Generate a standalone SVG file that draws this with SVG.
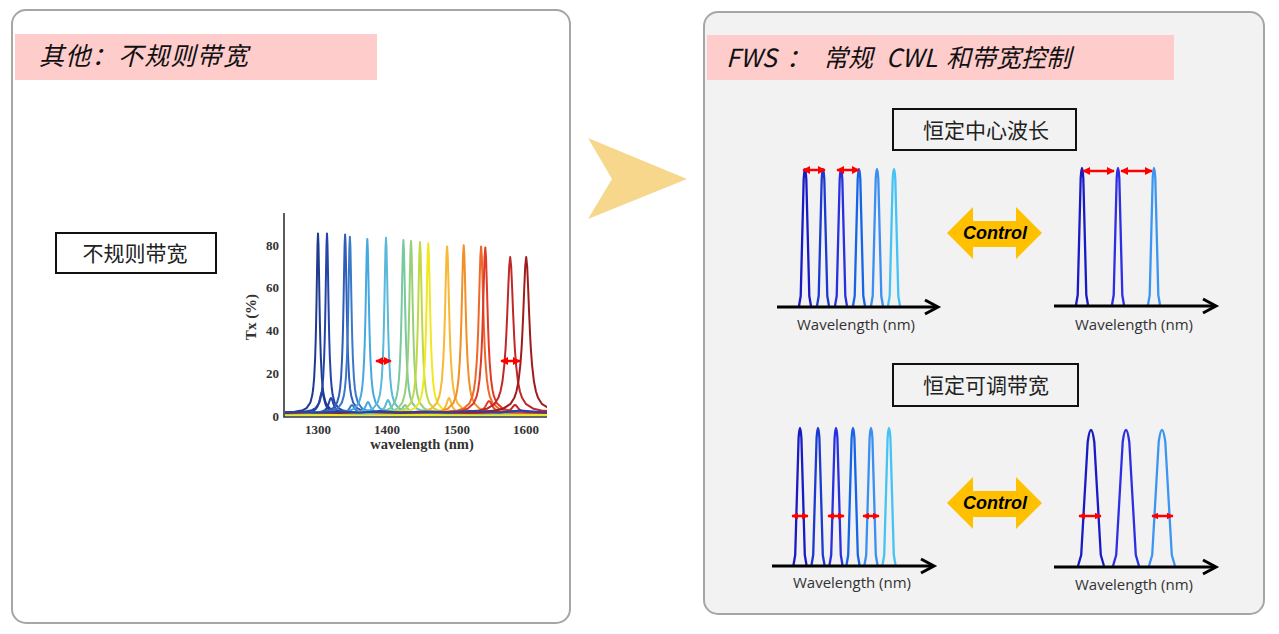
<svg xmlns="http://www.w3.org/2000/svg" xmlns:xlink="http://www.w3.org/1999/xlink" width="1279" height="634" viewBox="0 0 1279 634">
<style>
.panel{stroke:#a6a6a6;stroke-width:2}
.banner{fill:#ffcccc}
.title{font-family:"Noto Sans CJK SC","Noto Sans",sans-serif;font-style:italic;font-size:25px;fill:#111}
.lbl{font-family:"Noto Sans CJK SC",sans-serif;font-size:21px;fill:#222}
.box{stroke:#111;stroke-width:2}
.ser{font-family:"Liberation Serif",serif;font-weight:bold;fill:#333}
.wl{font-family:"Open Sans","Noto Sans",sans-serif;font-size:15px;fill:#333;text-anchor:middle}
.ax{stroke:#000;stroke-width:3;fill:none}
.pk{fill:none;stroke-width:2.3;stroke-linejoin:round}
.lz{fill:none;stroke-width:2;stroke-linejoin:round}
.ra{stroke:#ff0000;stroke-width:2.5;fill:none}
.ctl{fill:#ffc000}
.ctxt{font-family:"Liberation Sans",Arial,sans-serif;font-weight:bold;font-style:italic;font-size:18px;fill:#000;text-anchor:middle}
</style>
<defs>
<marker id="rh" viewBox="0 0 10 10" refX="9" refY="5" markerWidth="7" markerHeight="7" markerUnits="userSpaceOnUse" orient="auto-start-reverse"><path d="M0,0 L10,5 L0,10 z" fill="#ff0000"/></marker>
<marker id="rht" viewBox="0 0 10 10" refX="9" refY="5" markerWidth="8" markerHeight="8" markerUnits="userSpaceOnUse" orient="auto-start-reverse"><path d="M0,0 L10,5 L0,10 z" fill="#ff0000"/></marker>
<marker id="rhb" viewBox="0 0 10 10" refX="9" refY="5" markerWidth="8" markerHeight="8" markerUnits="userSpaceOnUse" orient="auto-start-reverse"><path d="M0,0 L10,5 L0,10 z" fill="#ff0000"/></marker>
<path id="lor" vector-effect="non-scaling-stroke" d="M-200,0 L-40,-0.0006 L-20,-0.0025 L-12,-0.0069 L-8,-0.0154 L-6,-0.027 L-4,-0.0588 L-3,-0.1 L-2.5,-0.138 L-2,-0.2 L-1.5,-0.308 L-1.2,-0.41 L-1,-0.5 L-0.75,-0.64 L-0.5,-0.8 L-0.25,-0.941 L0,-1 L0.25,-0.941 L0.5,-0.8 L0.75,-0.64 L1,-0.5 L1.2,-0.41 L1.5,-0.308 L2,-0.2 L2.5,-0.138 L3,-0.1 L4,-0.0588 L6,-0.027 L8,-0.0154 L12,-0.0069 L20,-0.0025 L40,-0.0006 L200,0"/>
<path id="pn" d="M-6,0 L-4.3,-10 L-1.3,-127 Q0,-147 1.3,-127 L4.3,-10 L6,0"/>
<path id="pm" d="M-6.5,0 L-4.8,-10 L-1.4,-127 Q0,-147 1.4,-127 L4.8,-10 L6.5,0"/>
<path id="pw" d="M-13,0 L-9.8,-11 L-3.3,-124 Q0,-148 3.3,-124 L9.8,-11 L13,0"/>
<clipPath id="cc"><rect x="285" y="200" width="262" height="216"/></clipPath>
</defs>

<g id="left-panel">
<rect class="panel" x="12" y="10" width="558" height="613" rx="14" fill="#ffffff"/>
<rect class="banner" x="15" y="34" width="362" height="46"/>
<text class="title" x="39" y="65" letter-spacing="1.3">其他：不规则带宽</text>
</g>

<g id="right-panel">
<rect class="panel" x="704" y="12" width="560" height="602" rx="14" fill="#f2f2f2"/>
<rect class="banner" x="707" y="35" width="467" height="45"/>
<text class="title" y="67"><tspan x="726">FWS</tspan><tspan x="786">：</tspan><tspan x="823">常规</tspan><tspan x="886">CWL</tspan><tspan x="946">和带宽控制</tspan></text>
</g>

<g id="big-arrow">
<polygon points="588,138 687,179 588,219 612,179" fill="#f6d78c"/>
</g>

<g id="node-irregular">
<rect class="box" x="56" y="233" width="160" height="40" fill="#ffffff"/>
<text class="lbl" x="135" y="261" text-anchor="middle">不规则带宽</text>
</g>

<g id="chart-left">
<g clip-path="url(#cc)">
<use href="#lor" class="lz" stroke="#1f3b8f" transform="translate(318,413) scale(1.9,179.4)"/>
<use href="#lor" class="lz" stroke="#1f3b8f" transform="translate(322,413) scale(3,21)"/>
<use href="#lor" class="lz" stroke="#2444a8" transform="translate(327,413) scale(1.9,179.4)"/>
<use href="#lor" class="lz" stroke="#2444a8" transform="translate(331,413) scale(3,15)"/>
<use href="#lor" class="lz" stroke="#2e5cb8" transform="translate(345.1,413) scale(2,178.4)"/>
<use href="#lor" class="lz" stroke="#3a78c8" transform="translate(349.9,413) scale(2,176.2)"/>
<use href="#lor" class="lz" stroke="#3a78c8" transform="translate(352,413) scale(3,8)"/>
<use href="#lor" class="lz" stroke="#45a8e0" transform="translate(367.3,413) scale(2.1,174.1)"/>
<use href="#lor" class="lz" stroke="#45a8e0" transform="translate(368,413) scale(3,11)"/>
<use href="#lor" class="lz" stroke="#5ab8d8" transform="translate(386,413) scale(2.1,175.2)"/>
<use href="#lor" class="lz" stroke="#5ab8d8" transform="translate(388,413) scale(3,13)"/>
<use href="#lor" class="lz" stroke="#78c8a0" transform="translate(403.4,413) scale(2.2,173)"/>
<use href="#lor" class="lz" stroke="#78c8a0" transform="translate(405,413) scale(3,8)"/>
<use href="#lor" class="lz" stroke="#98d078" transform="translate(411,413) scale(2.2,172)"/>
<use href="#lor" class="lz" stroke="#c0d848" transform="translate(420,413) scale(2.3,170.9)"/>
<use href="#lor" class="lz" stroke="#f0e820" transform="translate(428.3,413) scale(2.3,169.8)"/>
<use href="#lor" class="lz" stroke="#f8b838" transform="translate(447.1,413) scale(2.6,166.6)"/>
<use href="#lor" class="lz" stroke="#f8b838" transform="translate(449,413) scale(3,15)"/>
<use href="#lor" class="lz" stroke="#f09028" transform="translate(463.7,413) scale(2.6,167.7)"/>
<use href="#lor" class="lz" stroke="#f06828" transform="translate(481.1,413) scale(2.9,166.6)"/>
<use href="#lor" class="lz" stroke="#e03a28" transform="translate(485.3,413) scale(2.9,165.5)"/>
<use href="#lor" class="lz" stroke="#e03a28" transform="translate(489,413) scale(4,12)"/>
<use href="#lor" class="lz" stroke="#c02828" transform="translate(510.2,413) scale(3.9,155.9)"/>
<use href="#lor" class="lz" stroke="#c02828" transform="translate(515,413) scale(4,8)"/>
<use href="#lor" class="lz" stroke="#a01c1c" transform="translate(526.2,413) scale(3.9,155.9)"/>
<path class="lz" stroke="#5ab8d8" d="M285,415 L310,414.5 L340,415 L370,414 L400,415 L430,414.5 L470,415 L510,414.5 L547,415"/>
<path class="lz" stroke="#f0e820" d="M285,415.5 L330,415 L360,415.5 L420,415 L480,415.5 L547,415"/>
<path class="lz" stroke="#2444a8" d="M285,412.5 L300,411.5 L315,412.5 L345,411.5 L360,412.5 L380,411 L400,412.5 L425,411.5 L450,412.5 L470,411 L500,412.5 L520,410.5 L547,412.5"/>
</g>
<path d="M284,213 L284,417 L547,417" fill="none" stroke="#333" stroke-width="1.6"/>
<g class="ser" font-size="13" text-anchor="end">
<text x="279" y="250">80</text>
<text x="279" y="292">60</text>
<text x="279" y="335">40</text>
<text x="279" y="378">20</text>
<text x="279" y="421">0</text>
</g>
<g class="ser" font-size="13" text-anchor="middle">
<text x="318" y="434">1300</text>
<text x="387" y="434">1400</text>
<text x="457" y="434">1500</text>
<text x="526" y="434">1600</text>
</g>
<text class="ser" font-size="14.5" x="422" y="449" text-anchor="middle">wavelength (nm)</text>
<text class="ser" font-size="15" text-anchor="middle" transform="translate(256,317) rotate(-90)">Tx (%)</text>
<path class="ra" stroke-width="3" marker-start="url(#rhb)" marker-end="url(#rhb)" d="M376,361 L391,361"/>
<path class="ra" stroke-width="3" marker-start="url(#rhb)" marker-end="url(#rhb)" d="M501,361 L520,361"/>
</g>

<g id="node-constant-cwl">
<rect class="box" x="893" y="109" width="183" height="41" fill="#f2f2f2"/>
<text class="lbl" x="986" y="138" text-anchor="middle">恒定中心波长</text>
</g>

<g id="node-tunable-bw">
<rect class="box" x="893" y="364" width="185" height="42" fill="#f2f2f2"/>
<text class="lbl" x="986" y="393" text-anchor="middle">恒定可调带宽</text>
</g>

<g id="chart-tl">
<use href="#pn" class="pk" stroke="#1a1ac4" x="805" y="306"/>
<use href="#pn" class="pk" stroke="#1a3ad0" x="823" y="306"/>
<use href="#pn" class="pk" stroke="#2a30e0" x="841" y="306"/>
<use href="#pn" class="pk" stroke="#1565e6" x="859" y="306"/>
<use href="#pn" class="pk" stroke="#3a8ff0" x="877" y="306"/>
<use href="#pn" class="pk" stroke="#45c3f5" x="894" y="306"/>
<path class="ax" d="M777,307 L937,307"/>
<path class="ax" d="M925,300 L938,307 L925,314"/>
<text class="wl" x="856" y="330">Wavelength (nm)</text>
<path class="ra" marker-start="url(#rht)" marker-end="url(#rht)" d="M803,170 L825,170"/>
<path class="ra" marker-start="url(#rht)" marker-end="url(#rht)" d="M837,170 L859,170"/>
</g>

<g id="chart-tr">
<use href="#pn" class="pk" stroke="#1a1ac4" x="1082" y="305"/>
<use href="#pn" class="pk" stroke="#2e2ee2" x="1118" y="305"/>
<use href="#pn" class="pk" stroke="#3d95f2" x="1154" y="305"/>
<path class="ax" d="M1054,306 L1214,306"/>
<path class="ax" d="M1203,299 L1216,306 L1203,313"/>
<text class="wl" x="1134" y="330">Wavelength (nm)</text>
<path class="ra" marker-start="url(#rht)" marker-end="url(#rht)" d="M1083,171 L1114,171"/>
<path class="ra" marker-start="url(#rht)" marker-end="url(#rht)" d="M1121,171 L1152,171"/>
</g>

<g id="chart-bl">
<use href="#pm" class="pk" stroke="#1a1ac4" x="800" y="565"/>
<use href="#pm" class="pk" stroke="#1a3ad0" x="818" y="565"/>
<use href="#pm" class="pk" stroke="#2a30e0" x="836" y="565"/>
<use href="#pm" class="pk" stroke="#1565e6" x="853" y="565"/>
<use href="#pm" class="pk" stroke="#3a8ff0" x="871" y="565"/>
<use href="#pm" class="pk" stroke="#45c3f5" x="889" y="565"/>
<path class="ax" d="M772,566 L932,566"/>
<path class="ax" d="M921,559 L934,566 L921,573"/>
<text class="wl" x="852" y="588">Wavelength (nm)</text>
<path class="ra" marker-start="url(#rh)" marker-end="url(#rh)" d="M792,516 L808,516"/>
<path class="ra" marker-start="url(#rh)" marker-end="url(#rh)" d="M828,516 L844,516"/>
<path class="ra" marker-start="url(#rh)" marker-end="url(#rh)" d="M863,516 L879,516"/>
</g>

<g id="chart-br">
<use href="#pw" class="pk" stroke="#1a1ac4" x="1091" y="566"/>
<use href="#pw" class="pk" stroke="#2e2ee2" x="1126" y="566"/>
<use href="#pw" class="pk" stroke="#3d95f2" x="1162" y="566"/>
<path class="ax" d="M1054,567 L1214,567"/>
<path class="ax" d="M1203,560 L1216,567 L1203,574"/>
<text class="wl" x="1134" y="590">Wavelength (nm)</text>
<path class="ra" marker-start="url(#rh)" marker-end="url(#rh)" d="M1079,516 L1101,516"/>
<path class="ra" marker-start="url(#rh)" marker-end="url(#rh)" d="M1152,516 L1173,516"/>
</g>

<g id="control-top">
<polygon class="ctl" points="947,233 973,207 973,221 1016,221 1016,207 1042,233 1016,259 1016,247 973,247 973,259"/>
<text class="ctxt" x="995" y="239">Control</text>
</g>

<g id="control-bottom">
<polygon class="ctl" points="947,503 973,477 973,491 1016,491 1016,477 1042,503 1016,529 1016,517 973,517 973,529"/>
<text class="ctxt" x="995" y="509">Control</text>
</g>
</svg>
